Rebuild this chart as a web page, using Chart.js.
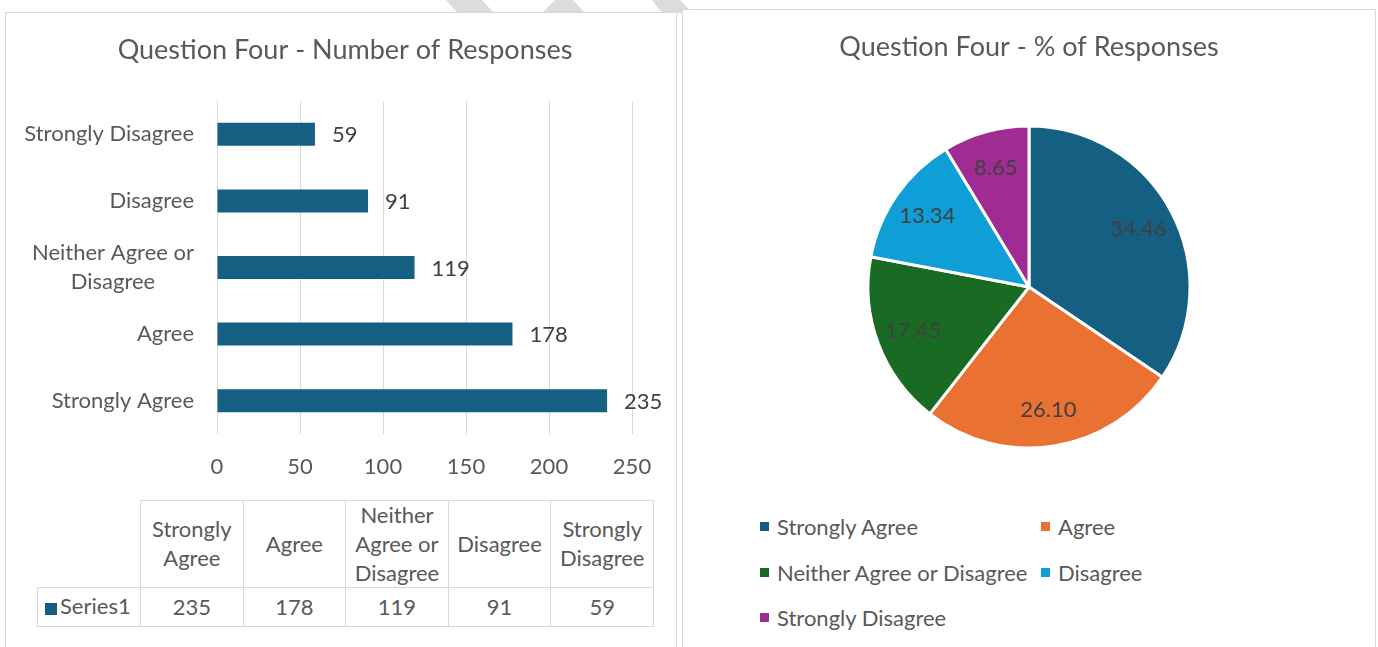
<!DOCTYPE html>
<html>
<head>
<meta charset="utf-8">
<script src="https://cdn.jsdelivr.net/npm/chart.js@4.4.1/dist/chart.umd.min.js"></script>
<style>
  html, body { margin:0; padding:0; background:#fff; width:1378px; height:647px; overflow:hidden; font-family: Lato, "Open Sans", sans-serif; }
  #wm { position:absolute; left:0; top:0; }
  .panel { position:absolute; border:1px solid #d9d9d9; background:#fff; box-sizing:border-box; }
  #leftPanel { left:5px; top:12px; width:672px; height:700px; }
  #rightPanel { left:682px; top:9px; width:694px; height:700px; }
  canvas { position:absolute; }
  #barCanvas { left:5px; top:12px; }
  #pieCanvas { left:683px; top:10px; }
  #dataTable { position:absolute; left:37px; top:500px; border-collapse:collapse; table-layout:fixed; width:617px; color:#595959; font-size:22px; }
  #dataTable td { border:1px solid #d9d9d9; text-align:center; padding:0; overflow:visible; white-space:nowrap; }
  #dataTable td .c { display:flex; flex-direction:column; justify-content:center; line-height:29px; position:relative; top:-1px; }
  #dataTable tr.hdr .c { height:86px; }
  #dataTable tr.val .c { height:38px; }
  #dataTable td.corner { border-top:none; border-left:none; }
  #dataTable td.series .c { display:block; line-height:38px; text-align:left; padding-left:7px; }
  .key { display:inline-block; width:12px; height:12px; margin-right:3px; vertical-align:-1px; }
  #pieLegend { position:absolute; left:760px; top:504px; display:grid; grid-template-columns:281px auto; grid-auto-rows:45.5px; color:#595959; font-size:22px; }
  #pieLegend .item { display:flex; align-items:center; white-space:nowrap; }
  #pieLegend .sq { width:9px; height:9px; margin-right:8px; }
</style>
</head>
<body>
<svg id="wm" width="700" height="14">
  <polygon points="446,0 482,0 494,13 458,13" fill="#dcdcdc"/>
  <polygon points="555,0 573,0 585,13 542,13" fill="#dcdcdc"/>
  <polygon points="652,0 680,0 693,13 662,13" fill="#dcdcdc"/>
</svg>
<div class="panel" id="leftPanel"></div>
<div class="panel" id="rightPanel"></div>
<canvas id="barCanvas" width="670" height="475"></canvas>
<table id="dataTable">
  <colgroup><col style="width:103px"><col><col><col><col><col></colgroup>
</table>
<canvas id="pieCanvas" width="692" height="470"></canvas>
<div id="pieLegend"></div>
<script>
// ---- data ----
const categories = ["Strongly Agree", "Agree", "Neither Agree or Disagree", "Disagree", "Strongly Disagree"];
const responseCounts = [235, 178, 119, 91, 59];
const responsePercents = [34.46, 26.10, 17.45, 13.34, 8.65];
const seriesName = "Series1";
const xTicks = [0, 50, 100, 150, 200, 250];
const barTitle = "Question Four - Number of Responses";
const pieTitle = "Question Four - % of Responses";
const barColor = "#156082";
const sliceColors = ["#156082", "#E97132", "#196B24", "#0F9ED5", "#A02B93"];

const FONT = "Lato, 'Open Sans', sans-serif";
const TEXT = "#595959";
const LABEL = "#404040";

function wrap(text, maxChars) {
  const words = text.split(" ");
  const lines = [];
  let cur = "";
  for (const w of words) {
    if (cur && (cur + " " + w).length > maxChars) { lines.push(cur); cur = w; }
    else cur = cur ? cur + " " + w : w;
  }
  if (cur) lines.push(cur);
  return lines;
}

// ---- bar chart ----
const barDecorPlugin = {
  id: "barDecor",
  afterDatasetsDraw(chart) {
    const ctx = chart.ctx;
    const meta = chart.getDatasetMeta(0);
    ctx.save();
    // value labels
    ctx.font = "22px " + FONT;
    ctx.fillStyle = LABEL;
    ctx.textAlign = "left";
    ctx.textBaseline = "middle";
    meta.data.forEach((bar, i) => {
      ctx.fillText(String(chart.data.datasets[0].data[i]), bar.x + 17, bar.y + 1);
    });
    // category labels (block right-aligned, lines centred within block)
    const ys = chart.scales.y;
    ctx.fillStyle = TEXT;
    ctx.textAlign = "center";
    const right = chart.chartArea.left - 23;
    ys.ticks.forEach((t, i) => {
      const lines = wrap(chart.data.labels[t.value], 18);
      const w = Math.max(...lines.map(l => ctx.measureText(l).width));
      const cx = right - w / 2;
      const cy = ys.getPixelForTick(i);
      lines.forEach((l, j) => ctx.fillText(l, cx, cy + (j - (lines.length - 1) / 2) * 29));
    });
    // title centred on the panel
    ctx.font = "27px " + FONT;
    ctx.fillText(barTitle, 340, 38);
    ctx.restore();
  }
};

new Chart(document.getElementById("barCanvas"), {
  type: "bar",
  data: {
    labels: categories,
    datasets: [{ label: seriesName, data: responseCounts, backgroundColor: barColor, barPercentage: 0.345, categoryPercentage: 1 }]
  },
  options: {
    responsive: false,
    animation: false,
    indexAxis: "y",
    layout: { padding: { left: 0, right: 43, top: 0, bottom: 0 } },
    plugins: {
      legend: { display: false },
      tooltip: { enabled: false },
      title: { display: true, text: barTitle, color: "rgba(0,0,0,0)", font: { family: FONT, size: 27, weight: "normal" }, padding: { top: 22, bottom: 34.6 } }
    },
    scales: {
      x: {
        min: 0, max: 250,
        afterBuildTicks(scale) { scale.ticks = xTicks.map(v => ({ value: v })); },
        afterFit(scale) { scale.height = 53; },
        grid: { color: "#d9d9d9", drawTicks: false },
        border: { display: false },
        ticks: { color: TEXT, font: { family: FONT, size: 22 }, padding: 20 }
      },
      y: {
        reverse: true,
        afterFit(scale) { scale.width = 212; },
        grid: { display: false, drawTicks: false },
        border: { display: false },
        ticks: { display: false }
      }
    }
  },
  plugins: [barDecorPlugin]
});

// ---- data table ----
(function () {
  const t = document.getElementById("dataTable");
  let html = '<tr class="hdr"><td class="corner"><div class="c"></div></td>';
  categories.forEach(c => { html += '<td><div class="c">' + wrap(c, 10).map(l => "<span>" + l + "</span>").join("") + "</div></td>"; });
  html += '</tr><tr class="val"><td class="series"><div class="c"><span class="key" style="background:' + barColor + '"></span>' + seriesName + "</div></td>";
  responseCounts.forEach(v => { html += '<td><div class="c">' + v + "</div></td>"; });
  html += "</tr>";
  t.insertAdjacentHTML("beforeend", html);
})();

// ---- pie chart ----
const pieLabelPlugin = {
  id: "pieLabels",
  afterDatasetsDraw(chart) {
    const ctx = chart.ctx;
    const meta = chart.getDatasetMeta(0);
    ctx.save();
    ctx.font = "22px " + FONT;
    ctx.fillStyle = LABEL;
    ctx.textAlign = "center";
    ctx.textBaseline = "middle";
    meta.data.forEach((arc, i) => {
      const p = arc.getProps(["x", "y", "startAngle", "endAngle", "outerRadius"], true);
      const mid = (p.startAngle + p.endAngle) / 2;
      const r = p.outerRadius * 0.77;
      ctx.fillText(chart.data.datasets[0].data[i].toFixed(2), p.x + Math.cos(mid) * r, p.y + Math.sin(mid) * r);
    });
    ctx.restore();
  }
};

new Chart(document.getElementById("pieCanvas"), {
  type: "pie",
  data: {
    labels: categories,
    datasets: [{ data: responsePercents, backgroundColor: sliceColors, borderColor: "#ffffff", borderWidth: 3 }]
  },
  options: {
    responsive: false,
    animation: false,
    datasets: { pie: { radius: 161 } },
    layout: { padding: { bottom: 26 } },
    plugins: {
      legend: { display: false },
      tooltip: { enabled: false },
      title: { display: true, text: pieTitle, color: TEXT, font: { family: FONT, size: 27, weight: "normal" }, padding: { top: 20.8, bottom: 56.8 } }
    }
  },
  plugins: [pieLabelPlugin]
});

// ---- pie legend ----
(function () {
  const lg = document.getElementById("pieLegend");
  lg.innerHTML = categories.map((c, i) =>
    '<div class="item"><span class="sq" style="background:' + sliceColors[i] + '"></span>' + c + "</div>").join("");
})();
</script>
</body>
</html>
